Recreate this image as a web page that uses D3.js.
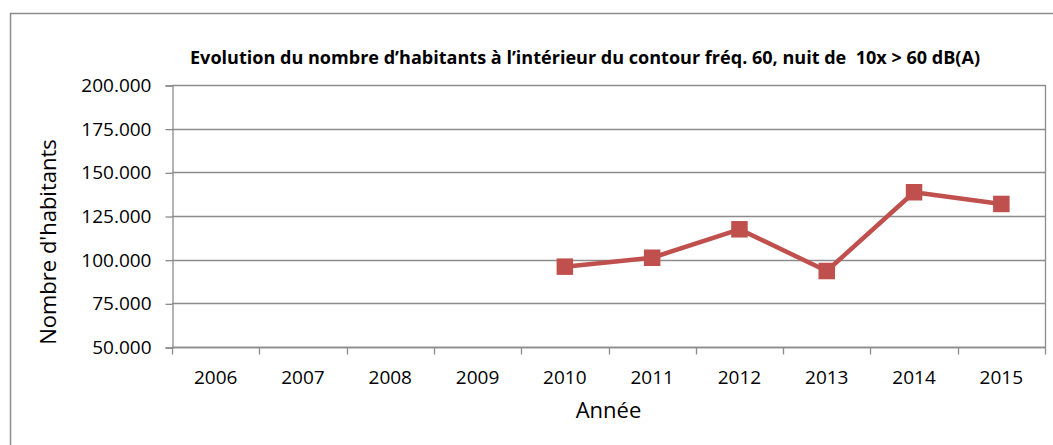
<!DOCTYPE html>
<html>
<head>
<meta charset="utf-8">
<script src="https://cdn.jsdelivr.net/npm/d3@7"></script>
<style>
  html, body { margin: 0; padding: 0; background: #fff; }
  svg { display: block; }
  text { font-family: "Open Sans", "Noto Sans", sans-serif; fill: #000; }
</style>
</head>
<body>
<svg id="chart" width="1053" height="445"></svg>
<script>
// Years on the category axis
const years = ["2006", "2007", "2008", "2009", "2010", "2011", "2012", "2013", "2014", "2015"];
// Inhabitants inside the contour (null = no measurement)
const habitants = [null, null, null, null, 96000, 101100, 117400, 93500, 138600, 131900];
// Y axis tick values
const yTicks = [50000, 75000, 100000, 125000, 150000, 175000, 200000];

const titleText = "Evolution du nombre d\u2019habitants \u00e0 l\u2019int\u00e9rieur du contour fr\u00e9q. 60, nuit de  10x > 60 dB(A)";
const xTitle = "Ann\u00e9e";
const yTitle = "Nombre d'habitants";

const svg = d3.select("#chart");
const W = 1053, H = 445;
const m = { left: 172, right: 1045, top: 85, bottom: 347 };
const grey = "#8c8c8c";
const red = "#C0504D";

// Outer chart frame (only top and left edges are within view)
svg.append("path")
  .attr("d", `M10.5,${H} V13.5 H${W}`)
  .attr("fill", "none").attr("stroke", grey).attr("stroke-width", 1.5);

const x = d3.scaleBand().domain(years).range([m.left, m.right]).padding(0);
const y = d3.scaleLinear().domain([50000, 200000]).range([m.bottom, m.top]);

const fmt = v => d3.format(",.0f")(v).replace(/,/g, ".");

// Horizontal gridlines
svg.append("g").selectAll("line").data(yTicks).join("line")
  .attr("x1", m.left).attr("x2", m.right)
  .attr("y1", d => Math.round(y(d)) + 0.5).attr("y2", d => Math.round(y(d)) + 0.5)
  .attr("stroke", grey).attr("stroke-width", 1.3);

// Right border of the plot area
svg.append("line")
  .attr("x1", m.right + 0.5).attr("x2", m.right + 0.5)
  .attr("y1", m.top).attr("y2", m.bottom)
  .attr("stroke", grey).attr("stroke-width", 1.3);

// Y axis
const yAxis = d3.axisLeft(y).tickValues(yTicks).tickFormat(fmt).tickSize(7).tickPadding(14);
const gy = svg.append("g").attr("transform", `translate(${m.left + 0.5},0.5)`).call(yAxis);
gy.select(".domain").attr("stroke", grey).attr("stroke-width", 1.3);
gy.selectAll(".tick line").attr("stroke", grey).attr("stroke-width", 1.3);
gy.selectAll(".tick text").attr("font-size", 19).attr("font-family", "Open Sans").attr("fill", "#000");

// X axis: ticks at band boundaries, labels centred in bands
const gx = svg.append("g").attr("transform", `translate(0,${m.bottom + 0.5})`);
gx.append("line").attr("x1", m.left).attr("x2", m.right + 1)
  .attr("stroke", grey).attr("stroke-width", 1.3);
const bounds = years.map(d => x(d)).concat([m.right]);
gx.selectAll(".tk").data(bounds).join("line").attr("class", "tk")
  .attr("x1", d => Math.round(d) + 0.5).attr("x2", d => Math.round(d) + 0.5)
  .attr("y1", 0).attr("y2", 7)
  .attr("stroke", grey).attr("stroke-width", 1.3);
gx.selectAll(".lbl").data(years).join("text").attr("class", "lbl")
  .attr("x", d => x(d) + x.bandwidth() / 2)
  .attr("y", 36)
  .attr("text-anchor", "middle")
  .attr("font-size", 19)
  .text(d => d);

// Axis titles
svg.append("text")
  .attr("x", (m.left + m.right) / 2).attr("y", 418)
  .attr("text-anchor", "middle").attr("font-size", 22)
  .text(xTitle);
svg.append("text")
  .attr("transform", `translate(56,242) rotate(-90)`)
  .attr("text-anchor", "middle").attr("font-size", 22)
  .text(yTitle);

// Title
svg.append("text")
  .attr("x", 585).attr("y", 64)
  .attr("text-anchor", "middle")
  .attr("font-size", 17).attr("font-weight", "bold")
  .attr("textLength", 790).attr("lengthAdjust", "spacingAndGlyphs")
  .style("white-space", "pre")
  .text(titleText);

// Series line and markers
const pts = years.map((d, i) => ({ year: d, v: habitants[i] })).filter(p => p.v != null);
const cx = d => x(d.year) + x.bandwidth() / 2;
const line = d3.line().x(cx).y(d => y(d.v));
svg.append("path").datum(pts)
  .attr("d", line)
  .attr("fill", "none").attr("stroke", red).attr("stroke-width", 4.5)
  .attr("stroke-linejoin", "round");

const s = 16.5;
svg.append("g").selectAll("rect").data(pts).join("rect")
  .attr("x", d => cx(d) - s / 2).attr("y", d => y(d.v) - s / 2)
  .attr("width", s).attr("height", s)
  .attr("fill", red);
</script>
</body>
</html>
